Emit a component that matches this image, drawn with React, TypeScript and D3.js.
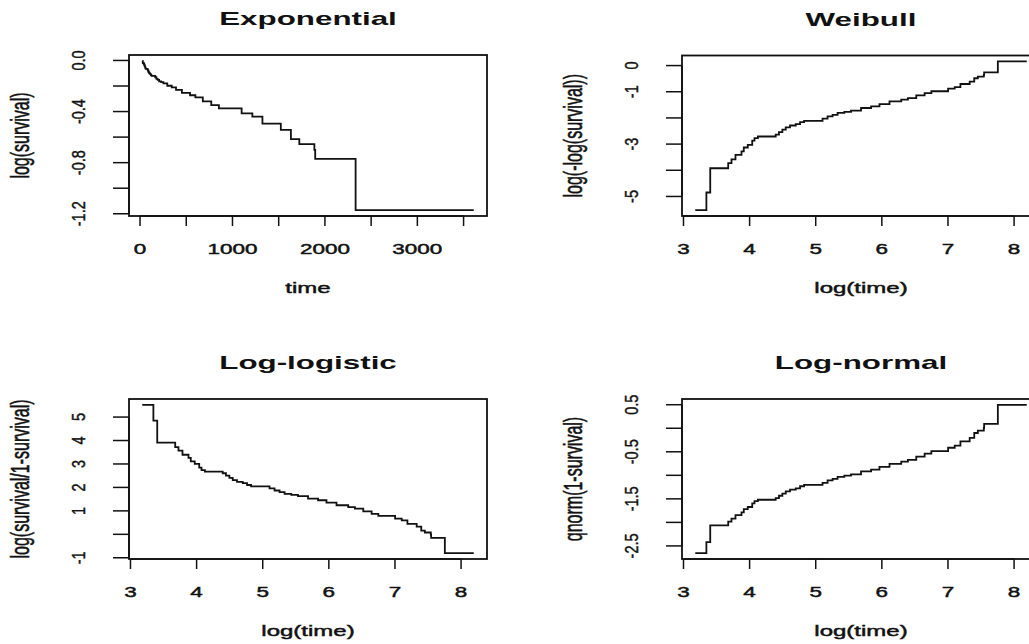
import React from 'react';
import * as d3 from 'd3';

// Kaplan-Meier step points (time in days, survival after the step)
const eventTimes = [24, 28.4, 30.1, 39.5, 41.5, 44.1, 48.3, 50, 53.1, 56.8, 58.8, 61.9, 81, 85.1, 89.6, 94.3, 100.6, 109.7, 117.1, 124.5, 164.5, 177.5, 191.5, 206.6, 228.7, 253, 294.5, 342.8, 389.2, 453, 540.9, 598.6, 679, 770.5, 853, 1099, 1215, 1324, 1523, 1632, 1723, 1886, 1895, 2332];
const survival = [0.996, 0.9922, 0.9804, 0.9763, 0.9725, 0.9675, 0.9631, 0.9572, 0.9528, 0.9449, 0.9393, 0.9356, 0.9311, 0.9242, 0.9173, 0.9099, 0.9037, 0.899, 0.8911, 0.8858, 0.8769, 0.8662, 0.8585, 0.849, 0.8434, 0.8361, 0.8205, 0.8105, 0.7946, 0.7756, 0.7615, 0.7487, 0.7263, 0.7047, 0.6871, 0.6605, 0.644, 0.6096, 0.581, 0.5401, 0.5194, 0.4966, 0.463, 0.3101];
const lastTime = 3610;

const titles = ['Exponential', 'Weibull', 'Log-logistic', 'Log-normal'];
const xLabels = ['time', 'log(time)', 'log(time)', 'log(time)'];
const yLabels = ['log(survival)', 'log(-log(survival))', 'log(survival/1-survival)', 'qnorm(1-survival)'];

const timeTicks = [0, 500, 1000, 1500, 2000, 2500, 3000, 3500];
const timeTickLabels = ['0', '', '1000', '', '2000', '', '3000', ''];
const logTimeTicks = [3, 4, 5, 6, 7, 8];
const logTimeTickLabels = ['3', '4', '5', '6', '7', '8'];

const expYTicks = [0, -0.2, -0.4, -0.6, -0.8, -1.0, -1.2];
const expYTickLabels = ['0.0', '', '-0.4', '', '-0.8', '', '-1.2'];
const weibullYTicks = [0, -1, -2, -3, -4, -5];
const weibullYTickLabels = ['0', '-1', '', '-3', '', '-5'];
const logisticYTicks = [5, 4, 3, 2, 1, 0, -1];
const logisticYTickLabels = ['5', '4', '3', '2', '1', '', '-1'];
const normalYTicks = [0.5, 0, -0.5, -1, -1.5, -2, -2.5];
const normalYTickLabels = ['0.5', '', '-0.5', '', '-1.5', '', '-2.5'];

function qnorm(p: number): number {
  const a = [-3.969683028665376e1, 2.209460984245205e2, -2.759285104469687e2, 1.38357751867269e2, -3.066479806614716e1, 2.506628277459239];
  const b = [-5.447609879822406e1, 1.615858368580409e2, -1.556989798598866e2, 6.680131188771972e1, -1.328068155288572e1];
  const c = [-7.784894002430293e-3, -3.223964580411365e-1, -2.400758277161838, -2.549732539343734, 4.374664141464968, 2.938163982698783];
  const d = [7.784695709041462e-3, 3.224671290700398e-1, 2.445134137142996, 3.754408661907416];
  const pl = 0.02425;
  if (p < pl) {
    const q = Math.sqrt(-2 * Math.log(p));
    return (((((c[0] * q + c[1]) * q + c[2]) * q + c[3]) * q + c[4]) * q + c[5]) / ((((d[0] * q + d[1]) * q + d[2]) * q + d[3]) * q + 1);
  }
  if (p <= 1 - pl) {
    const q = p - 0.5, r = q * q;
    return (((((a[0] * r + a[1]) * r + a[2]) * r + a[3]) * r + a[4]) * r + a[5]) * q / (((((b[0] * r + b[1]) * r + b[2]) * r + b[3]) * r + b[4]) * r + 1);
  }
  const q = Math.sqrt(-2 * Math.log(1 - p));
  return -(((((c[0] * q + c[1]) * q + c[2]) * q + c[3]) * q + c[4]) * q + c[5]) / ((((d[0] * q + d[1]) * q + d[2]) * q + d[3]) * q + 1);
}

const FONT = '"Liberation Sans", Arial, Helvetica, sans-serif';
const INK = '#111';

type Panel = {
  box: { x: number; y: number; w: number; h: number };
  xf: (t: number) => number;
  yf: (s: number) => number;
  xTicks: number[]; xTickLabels: string[];
  yTicks: number[]; yTickLabels: string[];
};

const panels: Panel[] = [
  { box: { x: 129, y: 55, w: 358, h: 161 }, xf: t => t, yf: s => Math.log(s), xTicks: timeTicks, xTickLabels: timeTickLabels, yTicks: expYTicks, yTickLabels: expYTickLabels },
  { box: { x: 682, y: 55.5, w: 358, h: 160.5 }, xf: t => Math.log(t), yf: s => Math.log(-Math.log(s)), xTicks: logTimeTicks, xTickLabels: logTimeTickLabels, yTicks: weibullYTicks, yTickLabels: weibullYTickLabels },
  { box: { x: 129, y: 399, w: 358, h: 160 }, xf: t => Math.log(t), yf: s => Math.log(s / (1 - s)), xTicks: logTimeTicks, xTickLabels: logTimeTickLabels, yTicks: logisticYTicks, yTickLabels: logisticYTickLabels },
  { box: { x: 682, y: 399, w: 358, h: 160 }, xf: t => Math.log(t), yf: s => qnorm(1 - s), xTicks: logTimeTicks, xTickLabels: logTimeTickLabels, yTicks: normalYTicks, yTickLabels: normalYTickLabels },
];

function pad(ext: [number, number]): [number, number] {
  const d = ext[1] - ext[0];
  return [ext[0] - 0.04 * d, ext[1] + 0.04 * d];
}

function HText(props: { x: number; y: number; text: string; size: number; sx: number; bold?: boolean }) {
  return (
    <text transform={`translate(${props.x},${props.y}) scale(${props.sx},1)`} textAnchor="middle" fontSize={props.size}
      fontFamily={FONT} fontWeight={props.bold ? 'bold' : 'normal'} fill={INK}
      stroke={props.bold ? 'none' : INK} strokeWidth={props.bold ? 0 : 0.45}>{props.text}</text>
  );
}

function VText(props: { x: number; y: number; text: string; size: number; a: number; b: number }) {
  return (
    <text transform={`translate(${props.x},${props.y}) rotate(-90) scale(${props.a},${props.b})`} textAnchor="middle"
      fontSize={props.size} fontFamily={FONT} fill={INK} stroke={INK} strokeWidth={0.35}>{props.text}</text>
  );
}

function PanelView({ p, i }: { p: Panel; i: number }) {
  const { box } = p;
  const pts: [number, number][] = eventTimes.map((t, k) => [p.xf(t), p.yf(survival[k])]);
  pts.push([p.xf(lastTime), p.yf(survival[survival.length - 1])]);
  const xs = pts.map(d => d[0]);
  const ys = pts.map(d => d[1]);
  const x = d3.scaleLinear().domain(pad(d3.extent(xs) as [number, number])).range([box.x, box.x + box.w]);
  const y = d3.scaleLinear().domain(pad(d3.extent(ys) as [number, number])).range([box.y + box.h, box.y]);
  const line = d3.line<[number, number]>().x(d => x(d[0])).y(d => y(d[1])).curve(d3.curveStepAfter);
  const bottom = box.y + box.h;
  const cx = box.x + box.w / 2;
  const cy = box.y + box.h / 2;
  return (
    <g>
      <path d={line(pts) || ''} fill="none" stroke={INK} strokeWidth={1.8} />
      <rect x={box.x} y={box.y} width={box.w} height={box.h} fill="none" stroke={INK} strokeWidth={1.8} />
      {/* x axis */}
      <line x1={x(p.xTicks[0])} x2={x(p.xTicks[p.xTicks.length - 1])} y1={bottom} y2={bottom} stroke={INK} strokeWidth={1.5} />
      {p.xTicks.map((t, k) => (
        <g key={'xt' + k}>
          <line x1={x(t)} x2={x(t)} y1={bottom} y2={bottom + 10} stroke={INK} strokeWidth={1.5} />
          {p.xTickLabels[k] ? <HText x={x(t)} y={bottom + 38} text={p.xTickLabels[k]} size={15} sx={1.5} /> : null}
        </g>
      ))}
      {/* y axis */}
      <line x1={box.x} x2={box.x} y1={y(p.yTicks[0])} y2={y(p.yTicks[p.yTicks.length - 1])} stroke={INK} strokeWidth={1.5} />
      {p.yTicks.map((v, k) => (
        <g key={'yt' + k}>
          <line x1={box.x - 16} x2={box.x} y1={y(v)} y2={y(v)} stroke={INK} strokeWidth={1.5} />
          {p.yTickLabels[k] ? <VText x={box.x - 44} y={y(v)} text={p.yTickLabels[k]} size={14.5} a={1} b={1.25} /> : null}
        </g>
      ))}
      <HText x={cx} y={box.y - 30} text={titles[i]} size={19} sx={1.65} bold />
      <HText x={cx} y={bottom + 77} text={xLabels[i]} size={15} sx={1.6} />
      <VText x={box.x - 100} y={cy} text={yLabels[i]} size={16} a={1} b={1.65} />
    </g>
  );
}

export default function App() {
  return (
    <svg width={1029} height={644} style={{ position: 'absolute', left: 0, top: 0, background: '#fff' }}>
      <rect x={0} y={0} width={1029} height={644} fill="#fff" />
      {panels.map((p, i) => <PanelView key={i} p={p} i={i} />)}
    </svg>
  );
}
